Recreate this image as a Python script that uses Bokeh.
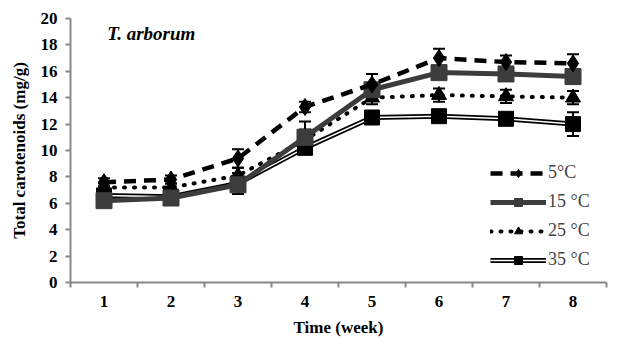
from bokeh.plotting import figure
from bokeh.models import (ColumnDataSource, Whisker, Legend, LegendItem, FixedTicker,
                          Range1d, Label, TeeHead)
from bokeh.embed import file_html
from bokeh.resources import INLINE

weeks = [1, 2, 3, 4, 5, 6, 7, 8]
week_labels = ["1", "2", "3", "4", "5", "6", "7", "8"]

t5 = [7.6, 7.8, 9.4, 13.3, 15.0, 17.0, 16.7, 16.6]
t5_err = [0.3, 0.3, 0.7, 0.4, 0.8, 0.7, 0.5, 0.7]
t15 = [6.2, 6.4, 7.4, 11.0, 14.6, 15.9, 15.8, 15.6]
t15_err = [0.3, 0.3, 0.4, 1.2, 0.5, 0.4, 0.4, 0.5]
t25 = [7.2, 7.2, 8.1, 10.8, 14.0, 14.2, 14.1, 14.0]
t25_err = [0.3, 0.3, 0.6, 0.8, 0.5, 0.5, 0.5, 0.5]
t35 = [6.6, 6.5, 7.5, 10.2, 12.5, 12.6, 12.4, 12.0]
t35_err = [0.3, 0.3, 0.8, 0.4, 0.4, 0.4, 0.4, 0.9]

FONT = "Liberation Serif"

p = figure(width=626, height=340, output_backend="svg", toolbar_location=None,
           x_range=Range1d(0.5, 8.5), y_range=Range1d(0, 20),
           min_border_left=70, min_border_right=20, min_border_top=18, min_border_bottom=58)
p.outline_line_color = None
p.xgrid.grid_line_color = None
p.ygrid.grid_line_color = None

# axes
p.xaxis.ticker = FixedTicker(ticks=weeks, minor_ticks=[w - 0.5 for w in weeks] + [8.5])
p.xaxis.major_label_overrides = {w: l for w, l in zip(weeks, week_labels)}
p.xaxis.minor_tick_in = 0
p.xaxis.minor_tick_out = 5
p.xaxis.major_tick_in = 0
p.xaxis.major_tick_out = 5
p.xaxis.minor_tick_line_color = "#888888"
p.yaxis.ticker = FixedTicker(ticks=list(range(0, 21, 2)))
p.yaxis.minor_tick_line_color = None
p.yaxis.major_tick_in = 0
p.yaxis.major_tick_out = 5
for ax in (p.xaxis[0], p.yaxis[0]):
    ax.axis_line_color = "#888888"
    ax.axis_line_width = 2
    ax.major_tick_line_width = 2
    ax.minor_tick_line_width = 2
    ax.major_label_text_font = FONT
    ax.major_label_text_font_style = "bold"
    ax.major_label_text_font_size = "17px"
    ax.major_label_text_color = "black"
    ax.axis_label_text_font = FONT
    ax.axis_label_text_font_style = "bold"
    ax.axis_label_text_font_size = "17px"
    ax.axis_label_text_color = "black"
p.xaxis.major_tick_line_color = None
p.yaxis.major_tick_line_color = "#888888"
p.xaxis.axis_label = "Time (week)"
p.yaxis.axis_label = "Total carotenoids (mg/g)"
p.xaxis.major_label_standoff = 8
p.xaxis.axis_label_standoff = 8
p.yaxis.major_label_standoff = 8
p.yaxis.axis_label_standoff = 9


def add_whisker(vals, errs, color):
    src = ColumnDataSource(dict(x=weeks,
                                lo=[v - e for v, e in zip(vals, errs)],
                                hi=[v + e for v, e in zip(vals, errs)]))
    w = Whisker(source=src, base="x", lower="lo", upper="hi", line_color=color, line_width=2,
                upper_head=TeeHead(size=12, line_color=color, line_width=2),
                lower_head=TeeHead(size=12, line_color=color, line_width=2))
    p.add_layout(w)


# error bars
add_whisker(t5, t5_err, "black")
add_whisker(t15, t15_err, "black")
add_whisker(t25, t25_err, "black")
add_whisker(t35, t35_err, "black")

# 35 °C double line
l35a = p.line(weeks, t35, line_color="black", line_width=5)
l35b = p.line(weeks, t35, line_color="white", line_width=1.5)
m35 = p.scatter(weeks, t35, marker="square", size=15, fill_color="black", line_color="black")

# 25 °C dotted
l25 = p.line(weeks, t25, line_color="black", line_width=4, line_dash="1 9", line_cap="round")
m25 = p.scatter(weeks, t25, marker="triangle", size=15, fill_color="black", line_color="black")

# 15 °C solid gray
l15 = p.line(weeks, t15, line_color="#3c3c3c", line_width=5)
m15 = p.scatter(weeks, t15, marker="square", size=16, fill_color="#3c3c3c", line_color="#3c3c3c")

# 5 °C dashed
l5 = p.line(weeks, t5, line_color="black", line_width=4.5, line_dash="12 8")
m5 = p.scatter(weeks, t5, marker="diamond", size=17, fill_color="black", line_color="black")

legend = Legend(items=[
    LegendItem(label="5°C", renderers=[l5, m5]),
    LegendItem(label="15 °C", renderers=[l15, m15]),
    LegendItem(label="25 °C", renderers=[l25, m25]),
    LegendItem(label="35 °C", renderers=[l35a, l35b, m35]),
], location=(420, 12))
legend.glyph_width = 56
legend.glyph_height = 20
legend.spacing = 8
legend.padding = 0
legend.margin = 0
legend.border_line_color = None
legend.background_fill_alpha = 0
legend.label_text_font = FONT
legend.label_text_font_size = "18px"
legend.label_standoff = 2
p.add_layout(legend)

p.add_layout(Label(x=1.05, y=18.1, text="T. arborum", text_font=FONT, text_font_style="bold italic",
                   text_font_size="19px", text_color="black"))

open("out.html", "w").write(file_html(p, INLINE))
